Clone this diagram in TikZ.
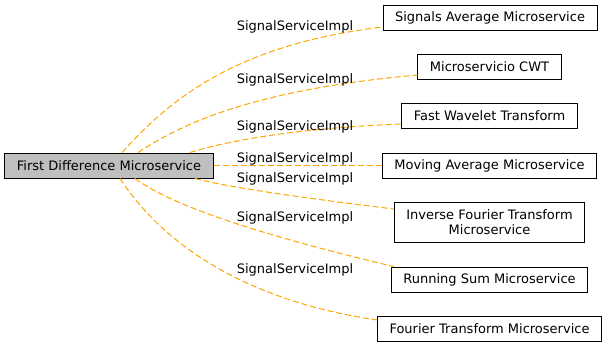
\documentclass[tikz,border=0pt]{standalone}
\usepackage{fontspec}
\setmainfont{DejaVu Sans}
\definecolor{linkorange}{HTML}{FFA500}
\definecolor{mainfill}{HTML}{BFBFBF}

\begin{document}
\begin{tikzpicture}[x=1pt,y=1pt,
  svc/.style={draw=black,line width=0.9pt,fill=white,inner xsep=12pt,inner ysep=0pt,
    minimum height=25pt,align=center,font=\fontsize{13}{15}\selectfont},
  lbl/.style={inner sep=0pt,font=\fontsize{13}{15}\selectfont},
  link/.style={draw=linkorange,line width=1pt,dash pattern=on 6pt off 3pt}]
  \useasboundingbox (0,0) rectangle (607,-348);
  % services
  \node[svc,fill=mainfill] (fdm) at (109,-165.5) {First Difference Microservice};
  \node[svc] (sam) at (490,-17.5) {Signals Average Microservice};
  \node[svc] (cwt) at (489.5,-66.5) {Microservicio CWT};
  \node[svc] (fwt) at (489.5,-115.5) {Fast Wavelet Transform};
  \node[svc] (mam) at (489.5,-165.5) {Moving Average Microservice};
  \node[svc,minimum height=40pt] (ift) at (489.5,-222) {Inverse Fourier Transform\\Microservice};
  \node[svc] (rsm) at (489.5,-279.5) {Running Sum Microservice};
  \node[svc] (ftm) at (489.5,-328.5) {Fourier Transform Microservice};
  % links to the SignalServiceImpl implementations
  \draw[link] ([xshift=13pt]fdm.north) .. controls (165,-105) and (230,-45) .. ([yshift=-9.5pt]sam.west);
  \draw[link] ([xshift=29pt]fdm.north) .. controls (180,-125) and (250,-90) .. ([yshift=-8.5pt]cwt.west);
  \draw[link] ([xshift=81pt]fdm.north) .. controls (230,-140) and (300,-128) .. ([yshift=-8.5pt]fwt.west);
  \draw[link,line width=1.4pt] (fdm.east) -- (mam.west);
  \draw[link] ([xshift=86pt]fdm.south) .. controls (230,-188) and (320,-200) .. ([yshift=13pt]ift.west);
  \draw[link] ([xshift=26pt]fdm.south) .. controls (170,-205) and (260,-235) .. ([xshift=3pt]rsm.north west);
  \draw[link] ([xshift=11pt]fdm.south) .. controls (160,-240) and (240,-300) .. ([yshift=8.5pt]ftm.west);
  \node[lbl] (l1) at (295,-27) {SignalServiceImpl};
  \node[lbl] (l2) at (295,-80) {SignalServiceImpl};
  \node[lbl] (l3) at (295,-126.5) {SignalServiceImpl};
  \node[lbl] (l4) at (295,-159) {SignalServiceImpl};
  \node[lbl] (l5) at (295,-179) {SignalServiceImpl};
  \node[lbl] (l6) at (295,-218) {SignalServiceImpl};
  \node[lbl] (l7) at (295,-270) {SignalServiceImpl};
\end{tikzpicture}
\end{document}
